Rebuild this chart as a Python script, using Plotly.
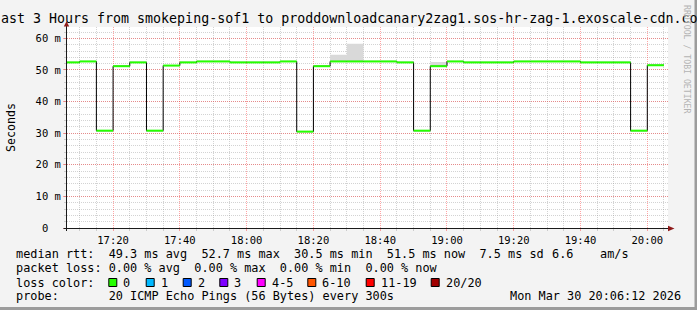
import plotly.graph_objects as go

# ---------------- data ----------------
DAY = "2026-03-30 "
# title as visible in the (edge-clipped) reference image
title_text = "ast 3 Hours from smokeping-sof1 to proddownloadcanary2zag1.sos-hr-zag-1.exoscale-cdn.co"
y_title = "Seconds"
x_range = ["2026-03-30 17:06:12", "2026-03-30 20:06:12"]

# 5-minute step boundaries (start of each step, plus end of last step)
step_times = ["17:05", "17:10", "17:15", "17:20", "17:25", "17:30", "17:35", "17:40",
              "17:45", "17:50", "17:55", "18:00", "18:05", "18:10", "18:15", "18:20",
              "18:25", "18:30", "18:35", "18:40", "18:45", "18:50", "18:55", "19:00",
              "19:05", "19:10", "19:15", "19:20", "19:25", "19:30", "19:35", "19:40",
              "19:45", "19:50", "19:55", "20:00", "20:05"]
# median rtt per step (ms)
median_ms = [52.4, 52.7, 30.8, 51.2, 52.4, 30.8, 51.4, 52.4,
             52.7, 52.7, 52.4, 52.4, 52.4, 52.7, 30.5, 51.2,
             52.7, 52.7, 52.7, 52.7, 52.4, 30.8, 51.2, 52.7,
             52.4, 52.4, 52.4, 52.7, 52.7, 52.7, 52.7, 52.4,
             52.4, 52.4, 30.8, 51.5]
# top of the "smoke" (max ping) per step (ms)
smoke_max_ms = [52.4, 52.7, 30.8, 51.2, 52.4, 30.8, 51.4, 52.4,
                52.7, 52.7, 52.4, 52.4, 52.4, 52.7, 30.5, 51.2,
                54.8, 58.3, 52.7, 52.7, 52.4, 30.8, 52.5, 52.7,
                52.4, 52.4, 52.4, 52.7, 52.7, 52.7, 52.7, 52.4,
                52.4, 52.4, 30.8, 51.5]

y_ticks = [0, 10, 20, 30, 40, 50, 60]
y_tick_labels = ["0  ", "10 m", "20 m", "30 m", "40 m", "50 m", "60 m"]

stats_row = "median rtt:  49.3 ms avg  52.7 ms max  30.5 ms min  51.5 ms now  7.5 ms sd"
stats_sd = "6.6"
stats_unit = "am/s"
loss_row = "packet loss: 0.00 % avg  0.00 % max  0.00 % min  0.00 % now"
loss_color_label = "loss color:"
loss_buckets = ["0", "1", "2", "3", "4-5", "6-10", "11-19", "20/20"]
loss_colors = ["#26ff00", "#00b8ff", "#0059ff", "#7e00ff", "#ff00ff", "#ff5500", "#ff0000", "#a10000"]
probe_row = "probe:       20 ICMP Echo Pings (56 Bytes) every 300s"
timestamp = "Mon Mar 30 20:06:12 2026"
watermark = "RRDTOOL / TOBI OETIKER"

# ---------------- layout helpers (styling only) ----------------
W, H = 697, 310
ML, MR, MT, MB = 67, 29, 27, 82
PW = W - ML - MR
PH = H - MT - MB
MONO = "DejaVu Sans Mono"


def fx(p):
    return (p - ML) / PW


def fy(p):
    return (H - MB - p) / PH


def nb(s):
    return s.replace(" ", "\u00a0")


times = [DAY + t for t in step_times]

fig = go.Figure()

# smoke (between median and max)
fig.add_trace(go.Scatter(x=times, y=median_ms + [median_ms[-1]], mode="lines",
                         line=dict(width=0, shape="hv"), hoverinfo="skip", showlegend=False))
fig.add_trace(go.Scatter(x=times, y=smoke_max_ms + [smoke_max_ms[-1]], mode="lines",
                         line=dict(width=0, shape="hv"), fill="tonexty", fillcolor="#d9d9d9",
                         hoverinfo="skip", showlegend=False))
# black step line (vertical transitions)
fig.add_trace(go.Scatter(x=times, y=median_ms + [median_ms[-1]], mode="lines",
                         line=dict(width=1, shape="hv", color="#000000"),
                         hoverinfo="skip", showlegend=False))
# green median segments (loss color 0)
gx, gy = [], []
for i, v in enumerate(median_ms):
    gx += [times[i], times[i + 1], None]
    gy += [v, v, None]
fig.add_trace(go.Scatter(x=gx, y=gy, mode="lines", line=dict(width=2, color=loss_colors[0]),
                         hoverinfo="skip", showlegend=False))

annotations = []


def add_text(text, x, y, size=11.85, xanchor="left", color="#000000", angle=0, family=MONO):
    annotations.append(dict(text=nb(text), x=fx(x), y=fy(y), xref="paper", yref="paper",
                            xanchor=xanchor, yanchor="middle", showarrow=False,
                            font=dict(family=family, size=size, color=color),
                            borderpad=0, borderwidth=0, textangle=angle))


add_text(title_text, 1.0, 18.5, size=13.3, xanchor="left")
add_text(y_title, 10.5, 127.5, size=11.6, xanchor="center", angle=-90)
add_text(stats_row, 16, 254)
add_text(stats_sd, 552, 254)
add_text(stats_unit, 600, 254)
add_text(loss_row, 16, 268)
add_text(loss_color_label, 16, 282.5)
add_text(probe_row, 16, 296)
add_text(timestamp, 680.5, 296, xanchor="right")
add_text(watermark, 687, 59, size=8.2, xanchor="center", color="#b4b4b4", angle=90)

shapes = []
swatch_left = [108.3, 145.7, 182.7, 219.3, 256.7, 307.3, 365.7, 430.7]
for i, (lab, col) in enumerate(zip(loss_buckets, loss_colors)):
    x0 = swatch_left[i]
    shapes.append(dict(type="rect", xref="paper", yref="paper",
                       x0=fx(x0 + 0.5), x1=fx(x0 + 8.5), y0=fy(278.5), y1=fy(286.5),
                       line=dict(color="#000000", width=1), fillcolor=col, layer="above"))
    add_text(lab, x0 + 15, 282.5)

AX = "#1a1a1a"
ARROW = "#8e1a1a"
# y axis line + arrow
shapes.append(dict(type="line", xref="paper", yref="paper", x0=fx(66.5), x1=fx(66.5),
                   y0=fy(231), y1=fy(25), line=dict(color=AX, width=1), layer="above"))
shapes.append(dict(type="path", xref="paper", yref="paper",
                   path="M {:.5f},{:.5f} L {:.5f},{:.5f} L {:.5f},{:.5f} Z".format(
                       fx(63.8), fy(26.5), fx(66.5), fy(21.2), fx(69.2), fy(26.5)),
                   fillcolor=ARROW, line=dict(width=0), layer="above"))
# x axis line + arrow
shapes.append(dict(type="line", xref="paper", yref="paper", x0=fx(63.5), x1=fx(669),
                   y0=fy(228.5), y1=fy(228.5), line=dict(color=AX, width=1), layer="above"))
shapes.append(dict(type="path", xref="paper", yref="paper",
                   path="M {:.5f},{:.5f} L {:.5f},{:.5f} L {:.5f},{:.5f} Z".format(
                       fx(668), fy(225.8), fx(674.5), fy(228.5), fx(668), fy(231.2)),
                   fillcolor=ARROW, line=dict(width=0), layer="above"))
# image border (bottom / right shade)
shapes.append(dict(type="rect", xref="paper", yref="paper", x0=fx(694.5), x1=fx(700),
                   y0=fy(312), y1=fy(-2), fillcolor="#9c9c9c", line=dict(width=0), layer="above"))
shapes.append(dict(type="rect", xref="paper", yref="paper", x0=fx(-2), x1=fx(700),
                   y0=fy(312), y1=fy(307), fillcolor="#9c9c9c", line=dict(width=0), layer="above"))

MGRID = "rgba(255,40,40,0.42)"
GRID = "rgba(150,150,150,0.42)"

fig.update_layout(
    width=W, height=H,
    margin=dict(l=ML, r=MR, t=MT, b=MB, pad=0),
    paper_bgcolor="#f3f3f3", plot_bgcolor="#ffffff",
    showlegend=False,
    font=dict(family=MONO, size=10.5, color="#000000"),
    annotations=annotations,
    shapes=shapes,
    xaxis=dict(type="date", range=x_range, tickformat="%H:%M",
               tick0="2026-03-30 17:00:00", dtick=1200000,
               showgrid=True, gridcolor=MGRID, griddash="1px,1px", gridwidth=1,
               ticks="outside", ticklen=2, tickcolor=MGRID,
               minor=dict(dtick=300000, showgrid=True, gridcolor=GRID, griddash="1px,1px",
                          ticks="outside", ticklen=2, tickcolor=GRID),
               showline=False, zeroline=False, fixedrange=True,
               tickfont=dict(family=MONO, size=10.5)),
    yaxis=dict(range=[0, 63.6], tickvals=y_ticks, ticktext=[nb(t) for t in y_tick_labels],
               showgrid=True, gridcolor=MGRID, griddash="1px,1px", gridwidth=1,
               ticks="outside", ticklen=3, tickcolor=MGRID,
               minor=dict(dtick=2, showgrid=True, gridcolor=GRID, griddash="1px,1px",
                          ticks="outside", ticklen=2, tickcolor=GRID),
               showline=False, zeroline=False, fixedrange=True,
               tickfont=dict(family=MONO, size=10.5)),
)

fig.write_html("out.html", config={"displayModeBar": False})
